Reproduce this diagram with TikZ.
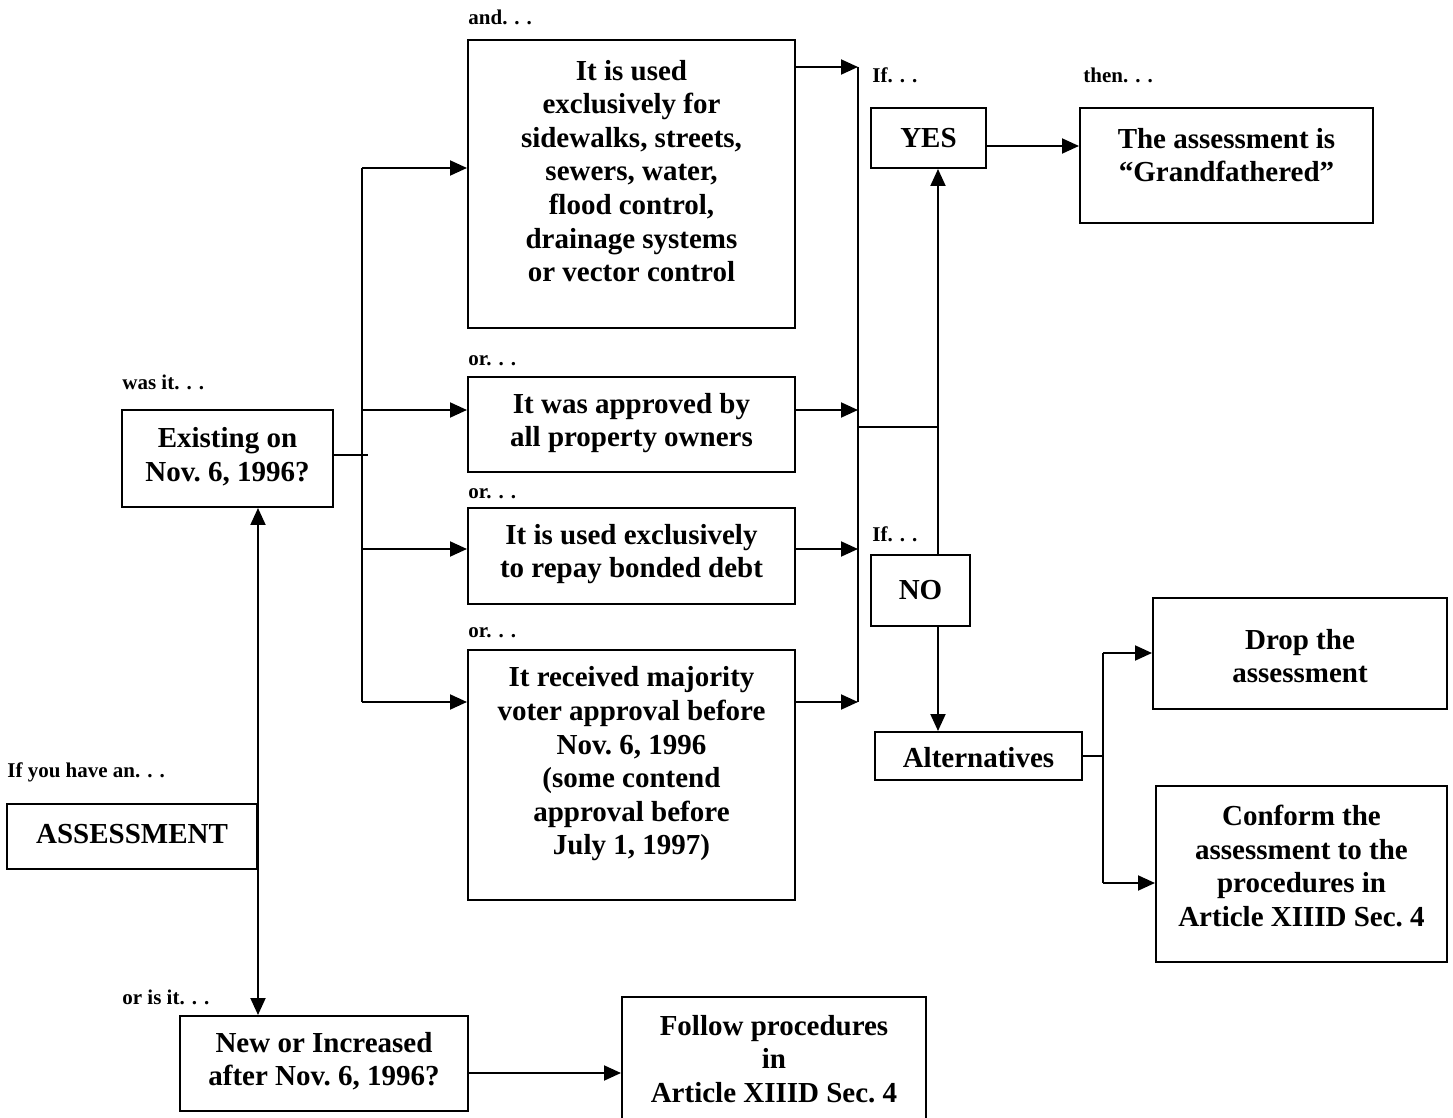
\documentclass[tikz,border=0pt]{standalone}
\usepackage{fontspec}
\setmainfont{Liberation Serif}
\usetikzlibrary{arrows.meta,fit}
\frenchspacing
\begin{document}
\frenchspacing
\begin{tikzpicture}[x=0.5pt,y=-0.5pt,
  box/.style={draw,line width=1pt,inner sep=0pt,rectangle},
  txt/.style={align=center,inner sep=0pt,font=\fontsize{14.5}{16.8}\selectfont\bfseries\frenchspacing},
  lab/.style={anchor=west,inner sep=0pt,font=\fontsize{10.5}{12}\selectfont\bfseries\nonfrenchspacing},
  ln/.style={line width=1pt},
  arr/.style={line width=1pt,-{Triangle[length=8.5pt,width=7.5pt]}},
  darr/.style={line width=1pt,{Triangle[length=8.5pt,width=7.5pt]}-{Triangle[length=8.5pt,width=7.5pt]}}]
\useasboundingbox (0,0) rectangle (1453,1118);
% boxes
\node[box,fit={(468,40) (795,328)}] (b1) {};
\node[box,fit={(468,377) (795,472)}] (b2) {};
\node[box,fit={(468,508) (795,604)}] (b3) {};
\node[box,fit={(468,650) (795,900)}] (b4) {};
\node[box,fit={(122,410) (333,507)}] (ex) {};
\node[box,fit={(7,804) (257,869)}] (as) {};
\node[box,fit={(180,1016) (468,1111)}] (nw) {};
\node[box,fit={(622,997) (926,1130)}] (fo) {};
\node[box,fit={(871,108) (986,168)}] (yes) {};
\node[box,fit={(1080,108) (1373,223)}] (gr) {};
\node[box,fit={(871,555) (970,626)}] (no) {};
\node[box,fit={(875,732) (1082,780)}] (al) {};
\node[box,fit={(1153,598) (1447,709)}] (dr) {};
\node[box,fit={(1156,786) (1447,962)}] (co) {};
% texts
\node[txt] (b1t) at (631.5,171) {It is used\\exclusively for\\sidewalks, streets,\\sewers, water,\\flood control,\\drainage systems\\or vector control};
\node[txt] (b2t) at (631.5,423) {It was approved by\\all property owners};
\node[txt] (b3t) at (631.5,554) {It is used exclusively\\to repay bonded debt};
\node[txt] (b4t) at (631.5,764) {It received majority\\voter approval before\\Nov. 6, 1996\\(some contend\\approval before\\July 1, 1997)};
\node[txt] (ext) at (227.5,456.5) {Existing on\\Nov. 6, 1996?};
\node[txt] (ast) at (132,834) {ASSESSMENT};
\node[txt] (nwt) at (324,1061) {New or Increased\\after Nov. 6, 1996?};
\node[txt] (fot) at (774,1059) {Follow procedures\\in\\Article XIIID Sec. 4};
\node[txt] (yest) at (928.5,138) {YES};
\node[txt] (grt) at (1226.5,155) {The assessment is\\“Grandfathered”};
\node[txt] (not) at (920.5,590) {NO};
\node[txt] (alt) at (978.5,758) {Alternatives};
\node[txt] (drt) at (1300,656) {Drop the\\assessment};
\node[txt] (cot) at (1301.5,866) {Conform the\\assessment to the\\procedures in\\Article XIIID Sec. 4};
% labels
\node[lab] (l1) at (468,17) {and. . .};
\node[lab] (l2) at (872,75) {If. . .};
\node[lab] (l3) at (1083,75) {then. . .};
\node[lab] (l4) at (468,361) {or. . .};
\node[lab] (l5) at (122,382) {was it. . .};
\node[lab] (l6) at (468,494) {or. . .};
\node[lab] (l7) at (872,534) {If. . .};
\node[lab] (l8) at (468,633) {or. . .};
\node[lab] (l9) at (7,772) {If you have an. . .};
\node[lab] (l10) at (122,997) {or is it. . .};
% coordinates
\coordinate (lb1) at (362,168);
\coordinate (lb2) at (362,410);
\coordinate (lb3) at (362,549);
\coordinate (lb4) at (362,702);
\coordinate (lbs) at (368,455);
\coordinate (rb1) at (858,67);
\coordinate (rb2) at (858,410);
\coordinate (rb3) at (858,549);
\coordinate (rb4) at (858,702);
\coordinate (rj) at (858,427);
\coordinate (vj) at (938,427);
\coordinate (aj) at (1103,756);
\coordinate (aj1) at (1103,653);
\coordinate (aj2) at (1103,883);
% left bus
\draw[ln] (lb1) -- (lb4);
\draw[ln] (ex.east |- lbs) -- (lbs);
\draw[arr] (lb1) -- (b1.west |- lb1);
\draw[arr] (lb2) -- (b2.west |- lb2);
\draw[arr] (lb3) -- (b3.west |- lb3);
\draw[arr] (lb4) -- (b4.west |- lb4);
% right bus
\draw[ln] (rb1) -- (rb4);
\draw[arr] (b1.east |- rb1) -- (rb1);
\draw[arr] (b2.east |- rb2) -- (rb2);
\draw[arr] (b3.east |- rb3) -- (rb3);
\draw[arr] (b4.east |- rb4) -- (rb4);
\draw[ln] (rj) -- (vj);
\draw[arr] (no.north -| vj) -- (yes.south -| vj);
\draw[arr] (yes.east |- 0,146) -- (gr.west |- 0,146);
\draw[arr] (no.south -| vj) -- (al.north -| vj);
% alternatives
\draw[ln] (al.east |- aj) -- (aj);
\draw[ln] (aj1) -- (aj2);
\draw[arr] (aj1) -- (dr.west |- aj1);
\draw[arr] (aj2) -- (co.west |- aj2);
% assessment
\draw[darr] (ex.south -| as.east) -- (nw.north -| as.east);
\draw[arr] (nw.east |- 0,1073) -- (fo.west |- 0,1073);
\end{tikzpicture}
\end{document}
